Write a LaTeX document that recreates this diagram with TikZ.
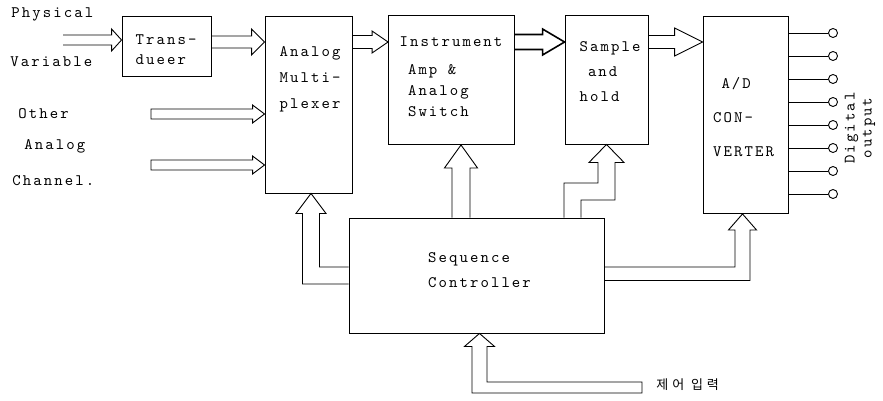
\documentclass[tikz,border=0pt]{standalone}
\usepackage{fontspec}
\usetikzlibrary{calc}
\newfontfamily\twfont[LetterSpace=13]{lmmono10-regular.otf}
\newfontfamily\krfont[LetterSpace=30]{Noto Sans CJK KR}
\newcommand\tw[1]{\fontsize{16}{#1}\selectfont\twfont}
% hollow arrow to the right: from, tip, stem half width, head half width, head length
\newcommand\harr[5]{($(#1)+(0,-#3)$) -- ($(#2)+(-#5,-#3)$) -- ($(#2)+(-#5,-#4)$) -- (#2)
  -- ($(#2)+(-#5,#4)$) -- ($(#2)+(-#5,#3)$) -- ($(#1)+(0,#3)$)}
% hollow arrow upwards
\newcommand\varr[5]{($(#1)+(-#3,0)$) -- ($(#2)+(-#3,#5)$) -- ($(#2)+(-#4,#5)$) -- (#2)
  -- ($(#2)+(#4,#5)$) -- ($(#2)+(#3,#5)$) -- ($(#1)+(#3,0)$)}

\begin{document}
\begin{tikzpicture}[x=1pt,y=-1pt,line width=0.9pt,
  blk/.style={draw,inner sep=0pt},
  txt/.style={align=left,inner sep=0pt},
  term/.style={draw,circle,minimum size=9pt,inner sep=0pt}]
  \useasboundingbox (0,0) rectangle (883,401);
  % blocks
  \node[blk,minimum width=89pt,minimum height=60pt] (td) at (166.5,46) {};
  \node[blk,minimum width=87pt,minimum height=177pt] (mux) at (308.5,104.5) {};
  \node[blk,minimum width=126pt,minimum height=129pt] (ins) at (451.5,80) {};
  \node[blk,minimum width=83pt,minimum height=129pt] (sh) at (606.5,79.5) {};
  \node[blk,minimum width=85pt,minimum height=197pt] (adc) at (745.5,115) {};
  \node[blk,minimum width=255pt,minimum height=115pt] (seq) at (476.5,275.5) {};
  % block texts
  \node[txt,font={\tw{20}}] (tdt) at (166,50) {Trans-\\dueer};
  \node[txt,font={\tw{26}}] (muxt) at (310,79) {Analog\\Multi-\\plexer};
  \node[txt,font={\tw{21}}] (inst) at (451,77) {Instrument\\[7pt]\hphantom{x}Amp \&\\\hphantom{x}Analog\\\hphantom{x}Switch};
  \node[txt,font={\tw{25}}] (sht) at (610,72) {Sample\\\hphantom{x}and\\hold};
  \node[txt,font={\tw{34}}] (adct) at (743.5,117.5) {\hphantom{x}A/D\\CON-\\VERTER};
  \node[txt,font={\tw{25}}] (seqt) at (479.5,270.5) {Sequence\\Controller};
  % inputs
  \node[txt,font={\tw{20}},anchor=west] (phy) at (11,14) {Physical};
  \node[txt,font={\tw{20}},anchor=west] (var) at (10,62) {Variable};
  \node[txt,font={\tw{20}},anchor=west] (oth) at (18,114) {Other};
  \node[txt,font={\tw{20}},anchor=west] (ana) at (24,146) {Analog};
  \node[txt,font={\tw{20}},anchor=west] (chn) at (12,181) {Channel.};
  \coordinate (pv) at (63,40);
  \coordinate (oa) at (151,114);
  \coordinate (ac) at (151,165);
  \coordinate (r1) at (0,42);
  \coordinate (ci) at (642,387.5);
  \coordinate (a1) at (td.west |- pv);
  \coordinate (a2) at (td.east |- r1);  \coordinate (a3) at (mux.west |- r1);
  \coordinate (a4) at (mux.west |- oa); \coordinate (a5) at (mux.west |- ac);
  \coordinate (a6) at (mux.east |- r1); \coordinate (a7) at (ins.west |- r1);
  \coordinate (a8) at (ins.east |- r1); \coordinate (a9) at (sh.west |- r1);
  \coordinate (a10) at (sh.east |- r1); \coordinate (a11) at (adc.west |- r1);
  % signal path
  \draw \harr{pv}{a1}{5}{11}{10};
  \draw \harr{a2}{a3}{6}{13}{13};
  \draw \harr{oa}{a4}{5}{9}{12} -- cycle;
  \draw \harr{ac}{a5}{5}{9}{12} -- cycle;
  \draw \harr{a6}{a7}{6.5}{11}{16};
  \draw[line width=1.6pt] \harr{a8}{a9}{7.5}{13}{22};
  \draw \harr{a10}{a11}{6.5}{14}{28};
  % control
  \coordinate (m0) at (seq.west);
  \coordinate (m1) at ([xshift=2.5pt]mux.south);
  \coordinate (mk) at (m1 |- m0);
  \draw ($(m0)+(0,8.5)$) -- ($(mk)+(-8.5,8.5)$) -- ($(m1)+(-8.5,20)$) -- ($(m1)+(-15,20)$) -- (m1)
    -- ($(m1)+(15,20)$) -- ($(m1)+(8.5,20)$) -- ($(mk)+(8.5,-8.5)$) -- ($(m0)+(0,-8.5)$);
  \coordinate (i0) at (seq.north -| 461,0);
  \coordinate (i1) at (ins.south -| 461,0);
  \draw \varr{i0}{i1}{9}{16.5}{23};
  \coordinate (s0) at (seq.north -| 572.5,0);
  \coordinate (s2) at (sh.south);
  \coordinate (s1) at (s0 |- 0,191.5);
  \coordinate (sk) at (s2 |- s1);
  \draw ($(s0)+(-8.5,0)$) -- ($(s1)+(-8.5,-8.5)$) -- ($(sk)+(-8.5,-8.5)$) -- ($(s2)+(-8.5,18)$) -- ($(s2)+(-17.5,18)$) -- (s2)
    -- ($(s2)+(17.5,18)$) -- ($(s2)+(8.5,18)$) -- ($(sk)+(8.5,8.5)$) -- ($(s1)+(8.5,8.5)$) -- ($(s0)+(8.5,0)$);
  \coordinate (d0) at (seq.east);
  \coordinate (d1) at ([xshift=-3pt]adc.south);
  \coordinate (dk) at (d1 |- d0);
  \draw ($(d0)+(0,-8.5)$) -- ($(dk)+(-7.5,-8.5)$) -- ($(d1)+(-7.5,16)$) -- ($(d1)+(-14,16)$) -- (d1)
    -- ($(d1)+(14,16)$) -- ($(d1)+(7.5,16)$) -- ($(dk)+(7.5,5)$) -- ($(d0)+(0,5)$);
  \coordinate (e1) at ([xshift=3pt]seq.south);
  \coordinate (ek) at (e1 |- ci);
  \draw ($(ci)+(0,-5.5)$) -- ($(ek)+(7.5,-5.5)$) -- ($(e1)+(7.5,13)$) -- ($(e1)+(15,13)$) -- (e1)
    -- ($(e1)+(-15,13)$) -- ($(e1)+(-7.5,13)$) -- ($(ek)+(-7.5,5.5)$) -- ($(ci)+(0,5.5)$) -- cycle;
  \node[font=\krfont\fontsize{13}{15}\selectfont,anchor=west,inner sep=0pt] (cin) at (656,385) {제어 입력};
  % outputs
  \foreach \i in {1,...,8}{\node[term] (o\i) at (833,{33+(\i-1)*23}) {};
    \draw (adc.east |- o\i) -- (o\i);}
  \node[txt,font={\tw{17}},align=center,rotate=90] (dout) at (860,128) {Digital\\output};
\end{tikzpicture}
\end{document}
